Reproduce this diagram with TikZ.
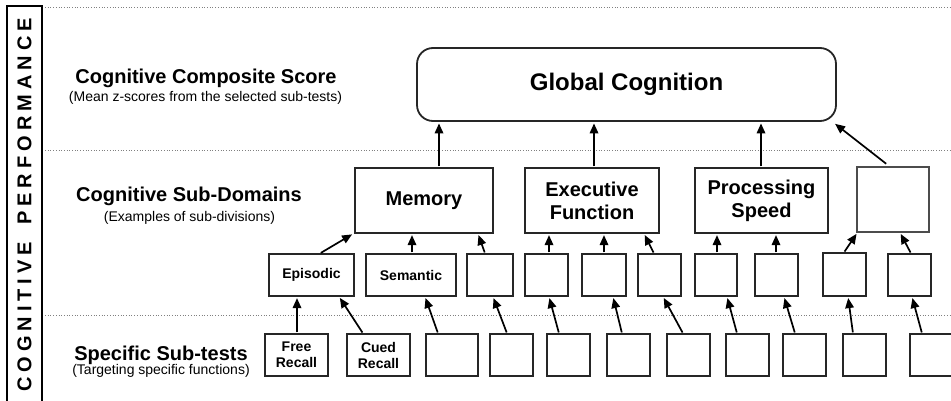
\documentclass[tikz,border=0pt]{standalone}
\usepackage{fontspec}
\setmainfont{Liberation Sans}
\usetikzlibrary{arrows.meta}
\begin{document}
\begin{tikzpicture}[x=1pt,y=-1pt,
  box/.style={draw=black!85, line width=1.2pt, inner sep=0pt, fill=white,
    align=center, font=\bfseries\fontsize{14}{16}\selectfont},
  dombox/.style={box, minimum height=65pt, font=\bfseries\fontsize{20}{23}\selectfont},
  subbox/.style={box, minimum height=42pt},
  arr/.style={line width=1.7pt, -{Triangle[length=10pt,width=8.5pt]},
    shorten >=1.5pt, shorten <=1pt},
  rule/.style={gray, line width=0.8pt, dash pattern=on 0.9pt off 1.8pt},
  head/.style={anchor=base, font=\bfseries\fontsize{20}{24}\selectfont},
  note/.style={anchor=base, font=\fontsize{14}{16}\selectfont}]

\useasboundingbox (0,0) rectangle (951,401);
\clip (0,0) rectangle (951,401);

% level separators
\draw[rule] (45,7) -- (951,7);
\draw[rule] (45,150) -- (951,150);
\draw[rule] (45,315) -- (951,315);

% vertical banner
\draw[line width=1.6pt] (7,410) -- (7,6) -- (42,6) -- (42,410);
\node[rotate=90, inner sep=0pt, font=\bfseries\fontsize{20}{20}\selectfont] (banner) at (24.5,205)
  {C\kern5pt O\kern5pt G\kern5pt N\kern5pt I\kern5pt T\kern5pt I\kern5pt V\kern5pt E\kern17pt
   P\kern5pt E\kern5pt R\kern5pt F\kern5pt O\kern5pt R\kern5pt M\kern5pt A\kern5pt N\kern5pt C\kern5pt E};

% level headings
\node[head] (h1) at (206,84) {Cognitive Composite Score};
\node[note] (n1) at (205.5,102) {(Mean z-scores from the selected sub-tests)};
\node[head] (h2) at (189,201) {Cognitive Sub-Domains};
\node[note] (n2) at (189.5,222) {(Examples of sub-divisions)};
\node[head] (h3) at (161,360) {Specific Sub-tests};
\node[note] (n3) at (161,374) {(Targeting specific functions)};

% composite score
\node[box, line width=1.8pt, rounded corners=16pt, minimum width=419pt, minimum height=73pt,
  font=\bfseries\fontsize{24}{28}\selectfont] (glob) at (626.5,84.5) {Global Cognition};

% sub-domains
\node[dombox, minimum width=138pt] (mem) at (424,200.5) {Memory};
\node[dombox, minimum width=134pt] (exe) at (592,200.5) {Executive\\Function};
\node[dombox, minimum width=133pt] (pro) at (761.5,200.5) {Processing\\Speed};
\node[dombox, minimum width=72pt, draw=black!70] (dx) at (893,199.5) {};

% sub-divisions
\node[subbox, minimum width=85pt] (epi) at (311.5,275) {Episodic};
\node[subbox, minimum width=90pt] (sem) at (411,275) {Semantic};
\node[subbox, minimum width=46pt] (r3) at (490,275) {};
\node[subbox, minimum width=43pt] (r4) at (546.5,275) {};
\node[subbox, minimum width=44pt] (r5) at (604,275) {};
\node[subbox, minimum width=43pt] (r6) at (659.5,275) {};
\node[subbox, minimum width=42pt] (r7) at (716,275) {};
\node[subbox, minimum width=43pt] (r8) at (776.5,275) {};
\node[subbox, minimum width=43pt, minimum height=43pt] (r9) at (844.5,274.5) {};
\node[subbox, minimum width=43pt] (r10) at (909.5,275) {};

% sub-tests
\node[subbox, minimum width=63pt] (b1) at (296.5,355) {Free\\Recall};
\node[subbox, minimum width=63pt] (b2) at (378.5,355) {Cued\\Recall};
\node[subbox, minimum width=52pt] (b3) at (452,355) {};
\node[subbox, minimum width=43pt] (b4) at (511.5,355) {};
\node[subbox, minimum width=43pt] (b5) at (568.5,355) {};
\node[subbox, minimum width=43pt] (b6) at (628.5,355) {};
\node[subbox, minimum width=43pt] (b7) at (688.5,355) {};
\node[subbox, minimum width=43pt] (b8) at (747.5,355) {};
\node[subbox, minimum width=43pt] (b9) at (804.5,355) {};
\node[subbox, minimum width=43pt] (b10) at (864.5,355) {};
\node[subbox, minimum width=43pt] (b11) at (931.5,355) {};

% sub-tests -> sub-divisions
\draw[arr] ([xshift=0.5pt]b1.north) -- ([xshift=-14.5pt]epi.south);
\draw[arr] ([xshift=-15.5pt]b2.north) -- ([xshift=27.5pt]epi.south);
\draw[arr] ([xshift=-14pt]b3.north) -- ([xshift=14pt]sem.south);
\draw[arr] ([xshift=-4.5pt]b4.north) -- ([xshift=3pt]r3.south);
\draw[arr] ([xshift=-9.5pt]b5.north) -- ([xshift=2.5pt]r4.south);
\draw[arr] ([xshift=-6.5pt]b6.north) -- ([xshift=9pt]r5.south);
\draw[arr] ([xshift=-5.5pt]b7.north) -- ([xshift=3.5pt]r6.south);
\draw[arr] ([xshift=-10.5pt]b8.north) -- ([xshift=11pt]r7.south);
\draw[arr] ([xshift=-9.5pt]b9.north) -- ([xshift=7.5pt]r8.south);
\draw[arr] ([xshift=-11.5pt]b10.north) -- ([xshift=3.5pt]r9.south);
\draw[arr] ([xshift=-9.5pt]b11.north) -- ([xshift=2.5pt]r10.south);

% sub-divisions -> sub-domains
\draw[arr] ([xshift=8.5pt]epi.north) -- ([xshift=-1pt]mem.south west);
\draw[arr] ([xshift=1pt]sem.north) -- ([xshift=-12pt]mem.south);
\draw[arr] ([xshift=-5pt]r3.north) -- ([xshift=54pt]mem.south);
\draw[arr] ([xshift=2.5pt]r4.north) -- ([xshift=-43pt]exe.south);
\draw[arr] (r5.north) -- ([xshift=12pt]exe.south);
\draw[arr] ([xshift=-5.5pt]r6.north) -- ([xshift=52pt]exe.south);
\draw[arr] ([xshift=1pt]r7.north) -- ([xshift=-44.5pt]pro.south);
\draw[arr] ([xshift=-0.5pt]r8.north) -- ([xshift=14.5pt]pro.south);
\draw[arr] ([xshift=-0.5pt]r9.north) -- ([xshift=1pt]dx.south west);
\draw[arr] ([xshift=1.5pt]r10.north) -- ([xshift=7pt]dx.south);

% sub-domains -> composite
\draw[arr] ([xshift=15pt]mem.north) -- ([xshift=-187.5pt]glob.south);
\draw[arr] ([xshift=2pt]exe.north) -- ([xshift=-32.5pt]glob.south);
\draw[arr] ([xshift=-0.5pt]pro.north) -- ([xshift=134.5pt]glob.south);
\draw[arr] ([xshift=-6pt,yshift=2pt]dx.north) -- ([xshift=-3pt,yshift=-1pt]glob.south east);
\end{tikzpicture}
\end{document}
